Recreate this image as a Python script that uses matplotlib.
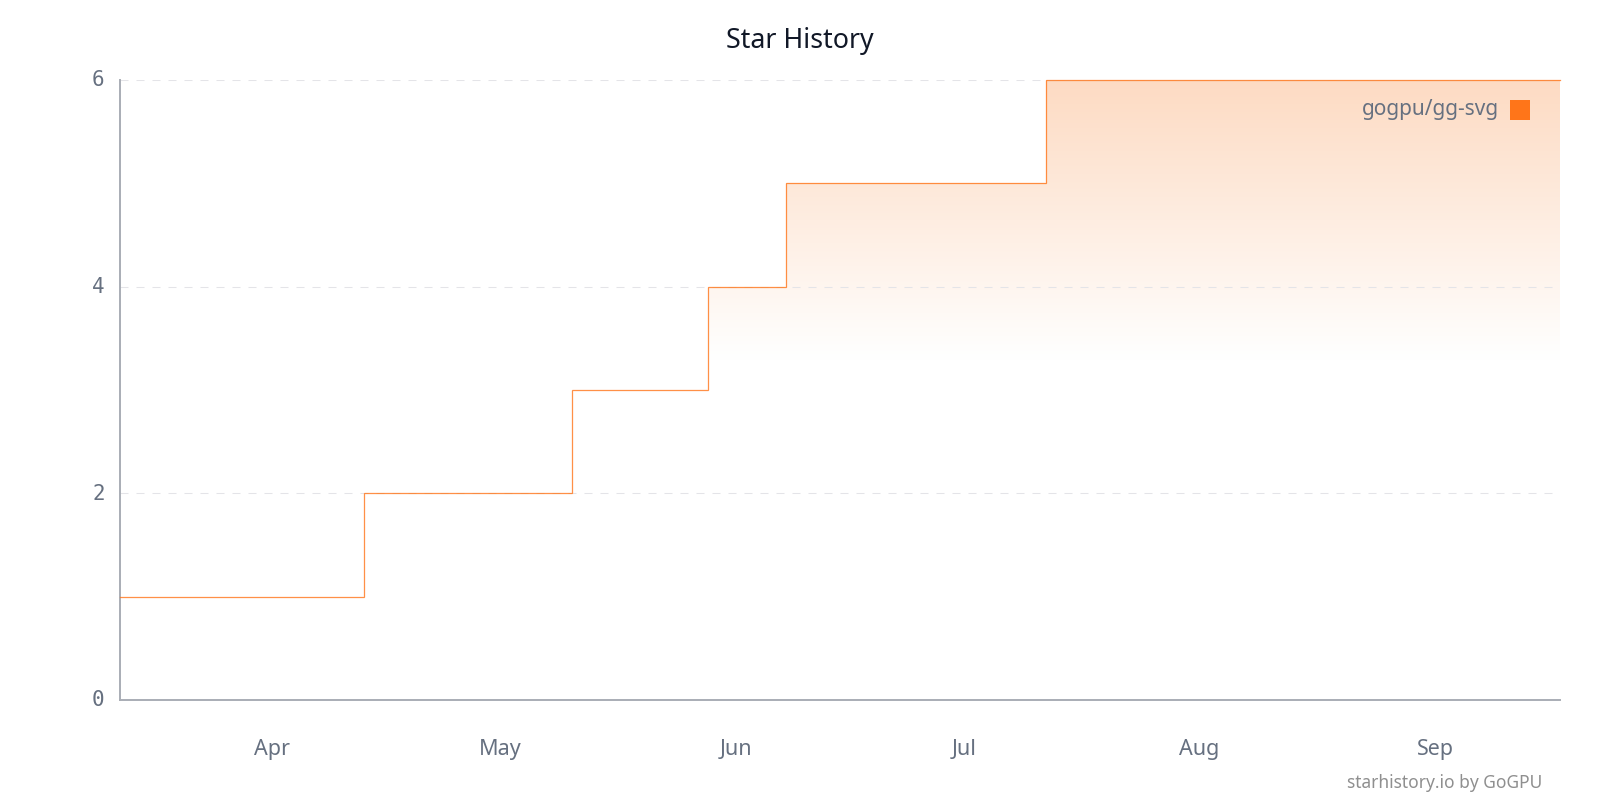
import numpy as np
import pandas as pd
import matplotlib
matplotlib.use("Agg")
import matplotlib.pyplot as plt
from matplotlib.colors import LinearSegmentedColormap
from matplotlib.patches import Rectangle
from matplotlib.transforms import ScaledTranslation

star_dates = ["2025-03-12 00:00", "2025-04-13 02:00", "2025-05-10 11:00", "2025-05-28 09:00",
              "2025-06-07 14:00", "2025-07-11 20:00", "2025-09-17 10:00"]
star_counts = [1, 2, 3, 4, 5, 6, 6]
month_ticks = ["2025-04-01", "2025-05-01", "2025-06-01", "2025-07-01", "2025-08-01", "2025-09-01"]
month_labels = ["Apr", "May", "Jun", "Jul", "Aug", "Sep"]
y_ticks = [0, 2, 4, 6]
repo_name = "gogpu/gg-svg"

ORANGE = "#ff7519"
TEXT = "#667080"
AXIS = "#a9adb5"
W, H = 1600, 800

plt.rcParams["font.family"] = ["Noto Sans", "DejaVu Sans"]

dates = pd.to_datetime(star_dates)
fig = plt.figure(figsize=(W / 100, H / 100), dpi=100)
ax = fig.add_axes([120 / W, 100 / H, 1440 / W, 620 / H])

# gradient under the line, clipped to the step area
fill = ax.fill_between(dates, star_counts, 0, step="post", color="none", linewidth=0)
cmap = LinearSegmentedColormap.from_list("fade", [(0, "#fddbc3"), (0.45, "#ffffff"), (1, "#ffffff")],
                                         N=256)
grad = ax.imshow(np.linspace(0, 1, 256).reshape(-1, 1), cmap=cmap, aspect="auto",
                 extent=(0, 1, 0, 1), transform=ax.transAxes, origin="upper", zorder=1)
grad.set_clip_path(fill.get_paths()[0], transform=ax.transData)

for y in y_ticks[1:]:
    ax.axhline(y, xmin=0, xmax=0.995, color="#e4e4e8", lw=0.75,
               dashes=(8 / 0.75 * 0.72, 8 / 0.75 * 0.72), zorder=2)

ax.step(dates, star_counts, where="post", color=ORANGE, lw=0.9, alpha=0.8, zorder=3,
        solid_joinstyle="miter", clip_on=False)

ax.set_xlim(dates[0], dates[-1])
ax.set_ylim(0, 6)

ax.set_yticks(y_ticks)
ax.set_yticklabels([str(v) for v in y_ticks], family="DejaVu Sans Mono", fontsize=15, color=TEXT)
ax.set_xticks(pd.to_datetime(month_ticks))
ax.set_xticklabels(month_labels, fontsize=15.5, color=TEXT)
ax.tick_params(axis="both", length=0)
ax.tick_params(axis="y", pad=11)
ax.tick_params(axis="x", pad=28)

# y labels sit slightly above the gridlines
nudge = ScaledTranslation(0, 1.5 / 100, fig.dpi_scale_trans)
for label in ax.get_yticklabels():
    label.set_transform(label.get_transform() + nudge)

for side in ["top", "right"]:
    ax.spines[side].set_visible(False)
for side in ["left", "bottom"]:
    ax.spines[side].set_color(AXIS)
    ax.spines[side].set_linewidth(1.4)

fig.text(800 / W, 1 - 41 / H, "Star History", ha="center", va="center",
         fontsize=19.3, color="#111827")
fig.text(1542 / W, 1 - 783 / H, "starhistory.io by GoGPU", ha="right", va="center",
         fontsize=12.5, color="#8f8f8f")

# legend on the top right
fig.text(1499 / W, 1 - 110 / H, repo_name, ha="right", va="center", fontsize=15, color=TEXT)
fig.add_artist(Rectangle((1510 / W, 1 - 120 / H), 20 / W, 20 / H, transform=fig.transFigure,
                         facecolor=ORANGE, edgecolor="none"))

fig.savefig("out.png", dpi=100, facecolor="white")
